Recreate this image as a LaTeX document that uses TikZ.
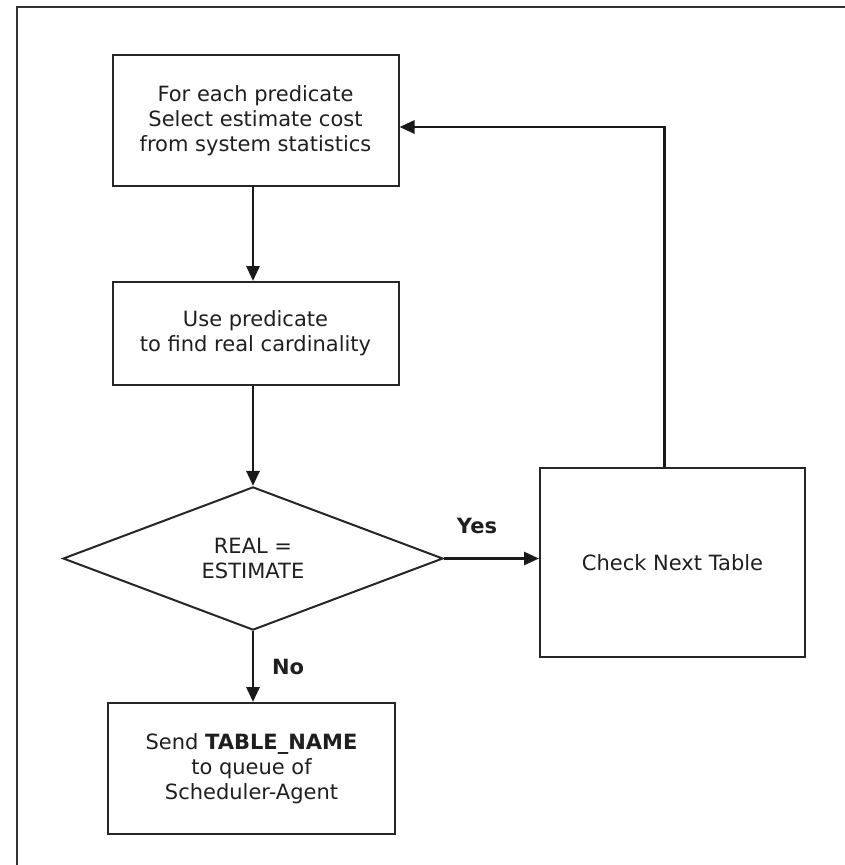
\documentclass[tikz,border=0pt]{standalone}
\usepackage{fontspec}
\setmainfont{DejaVu Sans}
\usetikzlibrary{arrows.meta,shapes.geometric}
\begin{document}
\begin{tikzpicture}[x=1pt,y=-1pt,
  every node/.style={font=\fontsize{21}{25}\selectfont, text=black!88},
  procbox/.style={draw=black!85, line width=2pt, align=center, inner sep=0pt},
  decision/.style={draw=black!85, line width=2pt, diamond, align=center, inner sep=0pt,
    minimum width=380pt, minimum height=143pt},
  flow/.style={draw=black!90, line width=2.8pt, -{Triangle[length=15pt,width=13pt]}},
  branch/.style={font=\fontsize{21}{25}\selectfont\bfseries}
]
\useasboundingbox (0,0) rectangle (845,865);
% outer frame, running off the page on the right and at the bottom
\draw[black!80, line width=2.8pt] (17,870) -- (17,7) -- (850,7);

\node[procbox, minimum width=286pt, minimum height=131pt] (b1) at (255.5,120.5)
  {For each predicate\\Select estimate cost\\from system statistics};
\node[procbox, minimum width=286pt, minimum height=103pt] (b2) at (255.5,333.5)
  {Use predicate\\to find real cardinality};
\node[decision] (dec) at (253,558.5) {REAL =\\ESTIMATE};
\node[procbox, minimum width=265pt, minimum height=189pt] (b3) at (672.5,562.5)
  {Check Next Table};
\node[procbox, minimum width=287pt, minimum height=131pt] (b4) at (251.5,768.5)
  {Send \textbf{TABLE\_NAME}\\to queue of\\Scheduler-Agent};

\draw[flow] (b1.south -| dec.north) -- (b2.north -| dec.north);
\draw[flow] (b2.south -| dec.north) -- (dec.north);
\draw[flow] (dec.east) -- (b3.west |- dec.east);
\draw[flow] (dec.south) -- (b4.north -| dec.south);
\coordinate (bend) at ([xshift=-8pt]b3.north |- 0,127);
\draw[flow] ([xshift=-8pt]b3.north) -- (bend) -- (b1.east |- bend);

\node[branch] (yes) at (477,526) {Yes};
\node[branch] (no) at (288,667) {No};
\end{tikzpicture}
\end{document}
